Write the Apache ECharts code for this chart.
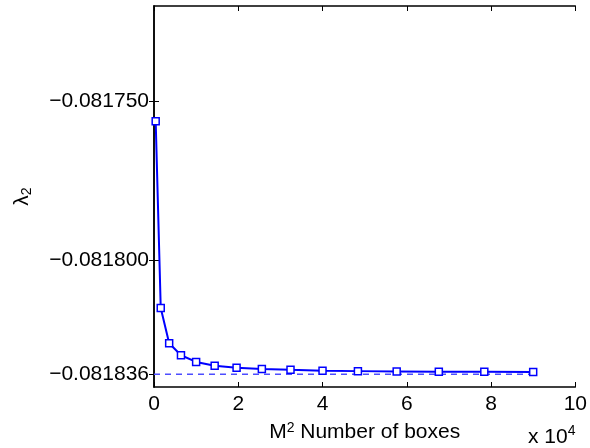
<!DOCTYPE html>
<html lang="en">
<head>
    <meta charset="UTF-8">
    <title>lambda2 vs boxes</title>
    <script src="https://cdn.jsdelivr.net/npm/echarts@6/dist/echarts.min.js"></script>
    <style>
        html, body { margin: 0; padding: 0; background: #fff; }
        #chart { width: 590px; height: 448px; }
    </style>
</head>
<body>
<div id="chart"></div>
<script type="text/javascript">
    // M^2 in units of 10^4, M = 20, 40, ..., 300
    const boxes = [0.04, 0.16, 0.36, 0.64, 1.00, 1.44, 1.96, 2.56, 3.24, 4.00, 4.84, 5.76, 6.76, 7.84, 9.00];
    const lambda2 = [-0.0817563, -0.0818151, -0.0818262, -0.0818300, -0.0818321, -0.0818333, -0.0818339,
        -0.0818343, -0.0818346, -0.0818349, -0.0818350, -0.0818351, -0.0818352, -0.0818352, -0.0818353];
    const limitValue = -0.081836;
    const limitRange = [0, 9];
    const yTicks = [-0.081750, -0.081800, -0.081836];

    const font = 'Liberation Sans, Arial, Helvetica, sans-serif';
    const chart = echarts.init(document.getElementById('chart'));

    const frameLine = { show: true, lineStyle: { color: '#000', width: 1.5 } };
    const inTick = { show: true, inside: true, length: 5, lineStyle: { color: '#000', width: 1 } };

    chart.setOption({
        animation: false,
        grid: { left: 154, right: 13, top: 6, bottom: 59 },
        xAxis: [
            {
                type: 'value', min: 0, max: 10, interval: 2, position: 'bottom',
                axisLine: frameLine, axisTick: inTick, splitLine: { show: false },
                axisLabel: { color: '#000', fontFamily: font, fontSize: 21, margin: 7 },
                name: 'M{sup|2} Number of boxes', nameLocation: 'middle', nameGap: 34,
                nameTextStyle: {
                    color: '#000', fontFamily: font, fontSize: 21,
                    rich: { sup: { fontSize: 14, verticalAlign: 'top', padding: [0, 0, 9, 0], color: '#000', fontFamily: font } }
                }
            },
            {
                type: 'value', min: 0, max: 10, interval: 2, position: 'top',
                axisLine: frameLine, axisTick: inTick, splitLine: { show: false },
                axisLabel: { show: false }
            }
        ],
        yAxis: [
            {
                type: 'value', min: -0.08184, max: -0.08172, position: 'left',
                axisLine: frameLine, splitLine: { show: false },
                axisTick: Object.assign({ customValues: yTicks }, inTick),
                axisLabel: {
                    customValues: yTicks, color: '#000', fontFamily: font, fontSize: 21, margin: 5,
                    formatter: v => '\u2212' + Math.abs(v).toFixed(6)
                },
                name: '{l|λ}{sub|2}', nameLocation: 'middle', nameGap: 120, nameRotate: 90,
                nameTextStyle: {
                    color: '#000', fontFamily: font,
                    rich: {
                        l: { fontSize: 21, fontFamily: font, color: '#000' },
                        sub: { fontSize: 14, fontFamily: font, color: '#000', padding: [10, 0, 0, 0] }
                    }
                }
            },
            {
                type: 'value', min: -0.08184, max: -0.08172, position: 'right',
                axisLine: frameLine, splitLine: { show: false },
                axisTick: Object.assign({ customValues: yTicks }, inTick),
                axisLabel: { show: false }
            }
        ],
        graphic: [
            {
                type: 'text', left: 528, top: 424,
                style: {
                    text: 'x 10{sup|4}', fill: '#000', font: '21px ' + font,
                    rich: { sup: { fontSize: 14, fontFamily: font, fill: '#000', padding: [0, 0, 12, 0] } }
                }
            }
        ],
        series: [
            {
                type: 'line',
                data: limitRange.map(x => [x, limitValue]),
                symbol: 'none',
                lineStyle: { color: '#4d4dff', width: 1.5, type: [6, 5] },
                z: 1
            },
            {
                type: 'line',
                data: boxes.map((x, i) => [x, lambda2[i]]),
                symbol: 'rect', symbolSize: 7,
                itemStyle: { color: '#fff', borderColor: '#0000ff', borderWidth: 1.5 },
                lineStyle: { color: '#0000ff', width: 2 },
                z: 2
            }
        ]
    });
</script>
</body>
</html>
